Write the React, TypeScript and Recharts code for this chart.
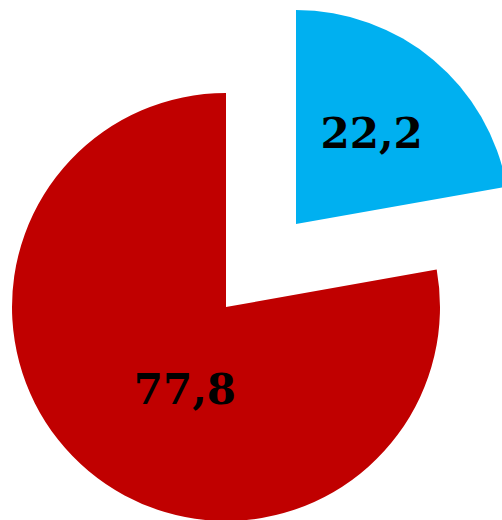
import { PieChart, Pie, Cell } from "recharts";

const categories = ["Тип A", "Тип B"];
const values = [22.2, 77.8];
const COLORS = ["#00B0F0", "#C00000"];

const data = categories.map((name, i) => ({ name, value: values[i] }));

const RADIUS = 214;
const RADIAN = Math.PI / 180;

// label placement per slice: fraction of radius + small turn off the bisector
const LABEL_FRAC = [0.55, 0.43];
const LABEL_TURN = [0, 13.4];

function makeLabel(shown: number) {
  return (props: any) => {
    const { cx, cy, midAngle, outerRadius, index, value } = props;
    if (index !== shown) return null;
    const r = outerRadius * LABEL_FRAC[index];
    const a = (midAngle + LABEL_TURN[index]) * RADIAN;
    const x = cx + r * Math.cos(-a);
    const y = cy + r * Math.sin(-a);
    return (
      <text
        x={x}
        y={y}
        textAnchor="middle"
        dominantBaseline="central"
        fill="#000"
        fontFamily="'DejaVu Serif', serif"
        fontWeight="bold"
        fontSize={42}
      >
        {Number(value).toFixed(1).replace(".", ",")}
      </text>
    );
  };
}

export default function App() {
  return (
    <div style={{ position: "fixed", left: 0, top: 0, width: 502, height: 520, background: "#fff" }}>
      <PieChart width={502} height={520} margin={{ top: 0, right: 0, bottom: 0, left: 0 }}>
        <Pie
          data={data}
          dataKey="value"
          cx={226}
          cy={307}
          outerRadius={RADIUS}
          startAngle={90}
          endAngle={-270}
          stroke="none"
          labelLine={false}
          label={makeLabel(1)}
          isAnimationActive={false}
        >
          {data.map((d, i) => (
            <Cell key={d.name} fill={i === 1 ? COLORS[1] : "none"} />
          ))}
        </Pie>
        <Pie
          data={data}
          dataKey="value"
          cx={296}
          cy={224}
          outerRadius={RADIUS}
          startAngle={90}
          endAngle={-270}
          stroke="none"
          labelLine={false}
          label={makeLabel(0)}
          isAnimationActive={false}
        >
          {data.map((d, i) => (
            <Cell key={d.name} fill={i === 0 ? COLORS[0] : "none"} />
          ))}
        </Pie>
      </PieChart>
    </div>
  );
}
